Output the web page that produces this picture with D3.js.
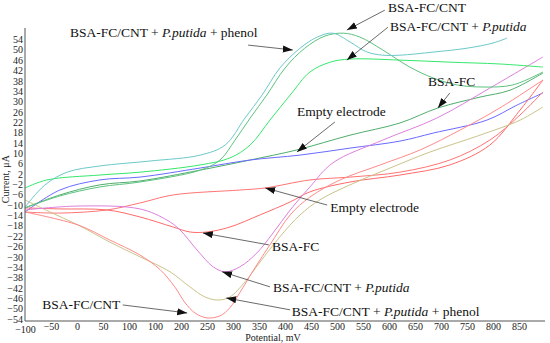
<!DOCTYPE html>
<html><head><meta charset="utf-8">
<script src="https://cdn.jsdelivr.net/npm/d3@7"></script>
<style>
html,body{margin:0;padding:0;background:#fff;}
svg{display:block;}
text{font-family:"Liberation Serif","Times New Roman",serif;}
</style></head>
<body>
<svg id="chart" width="550" height="343"></svg>
<script>
// ---- data (Potential mV, Current µA) ----
const xTicks = [-100,-50,0,50,100,150,200,250,300,350,400,450,500,550,600,650,700,750,800,850];
const xTickLabels = ["−100","−50","0","50","100","100","200","250","300","350","400","450","500","550","600","650","700","750","800","850"];
const yTicks = [54,50,46,42,38,34,30,26,22,18,14,10,6,2,-2,-6,-10,-14,-18,-22,-26,-30,-34,-38,-42,-46,-50,-54];

const cntUpX = [-100,-62,-19,44,140,237,285,323,356,390,429,462,492,525,558,588,621,685,750,800,827];
const cntUpY = [-10.8,-2.3,2.7,5.1,7,9.3,13.2,23.6,32.5,42.9,50.6,54.9,56.4,53,49.1,47.9,47.9,49.1,50.6,52.6,54.5];

const phenolUpX = [-100,-33,44,121,237,275,304,333,365,400,438,477,512,544,588,640,685,731,781,838,896];
const phenolUpY = [-11.1,-6.5,-3,-1.1,3.5,7.4,15.1,23.6,32.5,42.9,50.6,55.3,56.4,54.9,49.9,43.3,39.1,36.4,35.6,36.4,41.4];

const putidaUpX = [-100,-58,44,121,237,294,333,371,410,448,487,525,621,717,813,896];
const putidaUpY = [-3.4,-0.3,1.6,2.7,5.5,8.2,13.2,22.8,32.5,41.4,45.2,46.4,46,45.2,44.5,43.3];

const fcUpX = [-100,-33,44,121,237,333,423,525,621,694,775,833,896];
const fcUpY = [-11.1,-6.1,-2.2,-0.7,3.5,7.4,11.3,17,21.7,27.5,31.7,34.4,41];

const emptyUpX = [-100,-33,44,121,237,333,429,525,621,685,788,846,896];
const emptyUpY = [-12.7,-4.2,-0.3,0.8,4.3,7.4,9.3,12,14.7,17.8,22.8,28.6,33.3];

const putidaLoX = [-100,0,121,173,198,231,262,285,313,346,377,410,448,492,588,692,794,896];
const putidaLoY = [-11.9,-10.4,-11.5,-15.8,-19.6,-27.4,-33.9,-35.8,-33.9,-28.5,-20.8,-11.9,-3,6.3,15.1,23.6,35.2,47.2];

const cntLoX = [-100,2,63,121,160,188,208,227,250,275,294,313,342,371,410,448,506,583,660,737,813,896];
const cntLoY = [-12.7,-17.7,-23.5,-29.3,-35,-41.6,-47.8,-51.7,-53.6,-52.8,-49.7,-43.9,-34.3,-25.4,-13.8,-6.9,-0.3,5.5,11.3,19,27.5,38.3];

const phenolLoX = [-100,-52,2,63,121,179,217,246,271,294,323,352,390,429,467,525,602,679,775,852,896];
const phenolLoY = [-8,-12.7,-17.7,-24.3,-30,-35.8,-41.6,-45.5,-46.7,-45.5,-39.7,-32,-22.3,-13.8,-8,-2.2,4.3,10.5,17,22.8,27.9];

const fcLoX = [-100,-33,58,121,185,217,250,294,352,410,448,525,621,717,794,852,896];
const fcLoY = [-11.1,-11.5,-11.9,-14.6,-18.5,-20.4,-20.4,-18.5,-13.8,-8.8,-4.9,-1.1,1.6,5.5,13.2,26.7,38.3];

const emptyLoX = [-100,-33,58,121,185,313,362,448,525,621,717,794,852,896];
const emptyLoY = [-12.7,-13.1,-11.9,-9.2,-6.1,-4.2,-3.4,-0.3,0.8,2.7,7.4,15.1,24.8,33.7];

// ---- chart ----
const svg = d3.select("#chart");
const x = d3.scaleLinear().domain([-100, 900]).range([25, 545]);
const y = d3.scaleLinear().domain([-54.8, 58.4]).range([321, 28]);

const series = [
  {xs: fcUpX, ys: fcUpY, color: "#4fae6c"},
  {xs: emptyUpX, ys: emptyUpY, color: "#6a6aff"},
  {xs: emptyLoX, ys: emptyLoY, color: "#ff7474"},
  {xs: fcLoX, ys: fcLoY, color: "#ff6a6a"},
  {xs: phenolLoX, ys: phenolLoY, color: "#c9c48a"},
  {xs: cntLoX, ys: cntLoY, color: "#ff8a8a"},
  {xs: putidaLoX, ys: putidaLoY, color: "#dd80dd"},
  {xs: putidaUpX, ys: putidaUpY, color: "#35e86c"},
  {xs: phenolUpX, ys: phenolUpY, color: "#5cc27e"},
  {xs: cntUpX, ys: cntUpY, color: "#6cc9c9"}
];

const line = d3.line().x(d => x(d[0])).y(d => y(d[1])).curve(d3.curveCatmullRom.alpha(0.5));

svg.append("g").selectAll("path").data(series).join("path")
  .attr("d", s => line(s.xs.map((v, i) => [v, s.ys[i]])))
  .attr("fill", "none").attr("stroke", s => s.color).attr("stroke-width", 1);

// axes
const axisColor = "#555";
const xAxis = d3.axisBottom(x).tickValues(xTicks).tickSize(0).tickPadding(2)
  .tickFormat((d, i) => xTickLabels[i]);
const gx = svg.append("g").attr("transform", `translate(0,${y(-54.8)})`).call(xAxis);
gx.select(".domain").attr("stroke", axisColor).attr("d", `M${x(-100)},0H${x(900)}`);
gx.selectAll("text").attr("font-size", 10).attr("fill", "#222").attr("font-family", "Liberation Serif");
gx.selectAll(".tick").filter(d => d === xTicks[0]).select("text").attr("dy", "1.02em");

const yAxis = d3.axisLeft(y).tickValues(yTicks).tickSize(0).tickPadding(2)
  .tickFormat(d => d < 0 ? "−" + Math.abs(d) : String(d));
const gy = svg.append("g").attr("transform", `translate(${x(-100)},0)`).call(yAxis);
gy.select(".domain").attr("stroke", axisColor).attr("d", `M0,${y(58.4)}V${y(-54.8)}`);
gy.selectAll("text").attr("font-size", 10).attr("fill", "#222").attr("font-family", "Liberation Serif");

svg.append("text").attr("transform", `translate(9,${y(0)}) rotate(-90)`)
  .attr("text-anchor", "middle").attr("font-size", 10).attr("fill", "#222")
  .text("Current, μA");
svg.append("text").attr("x", x(400)-12).attr("y", 341)
  .attr("text-anchor", "middle").attr("font-size", 10).attr("fill", "#222")
  .text("Potential, mV");

// annotations: text anchor, line start, arrow tip (in data units)
const defs = svg.append("defs");
defs.append("marker").attr("id", "ah").attr("markerUnits", "userSpaceOnUse")
  .attr("markerWidth", 10).attr("markerHeight", 8).attr("refX", 10).attr("refY", 3.5)
  .attr("orient", "auto")
  .append("path").attr("d", "M0,0L10,3.5L0,7Z").attr("fill", "#111");

const annotations = [
  {parts: [["BSA-FC/CNT + ", false], ["P.putida", true], [" + phenol", false]], t: [-13.5, 54.9], a: [329, 51.8], b: [415, 49.9]},
  {parts: [["BSA-FC/CNT", false]], t: [598, 64.5], a: [592, 65.3], b: [519, 57.6]},
  {parts: [["BSA-FC/CNT + ", false], ["P.putida", true]], t: [602, 57.2], a: [598, 58.7], b: [519, 46]},
  {parts: [["BSA-FC", false]], t: [675, 36], a: [717, 33.3], b: [694, 27.5]},
  {parts: [["Empty electrode", false]], t: [423, 24.4], a: [496, 22.1], b: [423, 10.5]},
  {parts: [["Empty electrode", false]], t: [487, -12.7], a: [481, -10], b: [362, -3.4]},
  {parts: [["BSA-FC", false]], t: [375, -27.7], a: [369, -25.4], b: [242, -20.8]},
  {parts: [["BSA-FC/CNT + ", false], ["P.putida", true]], t: [377, -43.6], a: [371, -41.6], b: [279, -35.8]},
  {parts: [["BSA-FC/CNT + ", false], ["P.putida", true], [" + phenol", false]], t: [413, -52.8], a: [410, -50.5], b: [287, -45.9]},
  {parts: [["BSA-FC/CNT", false]], t: [-67, -50.1], a: [88, -48.6], b: [212, -51.7]}
];

const ga = svg.append("g");
annotations.forEach(an => {
  ga.append("line")
    .attr("x1", x(an.a[0])).attr("y1", y(an.a[1]))
    .attr("x2", x(an.b[0])).attr("y2", y(an.b[1]))
    .attr("stroke", "#444").attr("stroke-width", 0.8).attr("marker-end", "url(#ah)");
  const t = ga.append("text").attr("x", x(an.t[0])).attr("y", y(an.t[1]))
    .attr("font-size", 13.5).attr("fill", "#111");
  an.parts.forEach(p => {
    t.append("tspan").attr("font-style", p[1] ? "italic" : "normal").text(p[0]);
  });
});
</script>
</body></html>
